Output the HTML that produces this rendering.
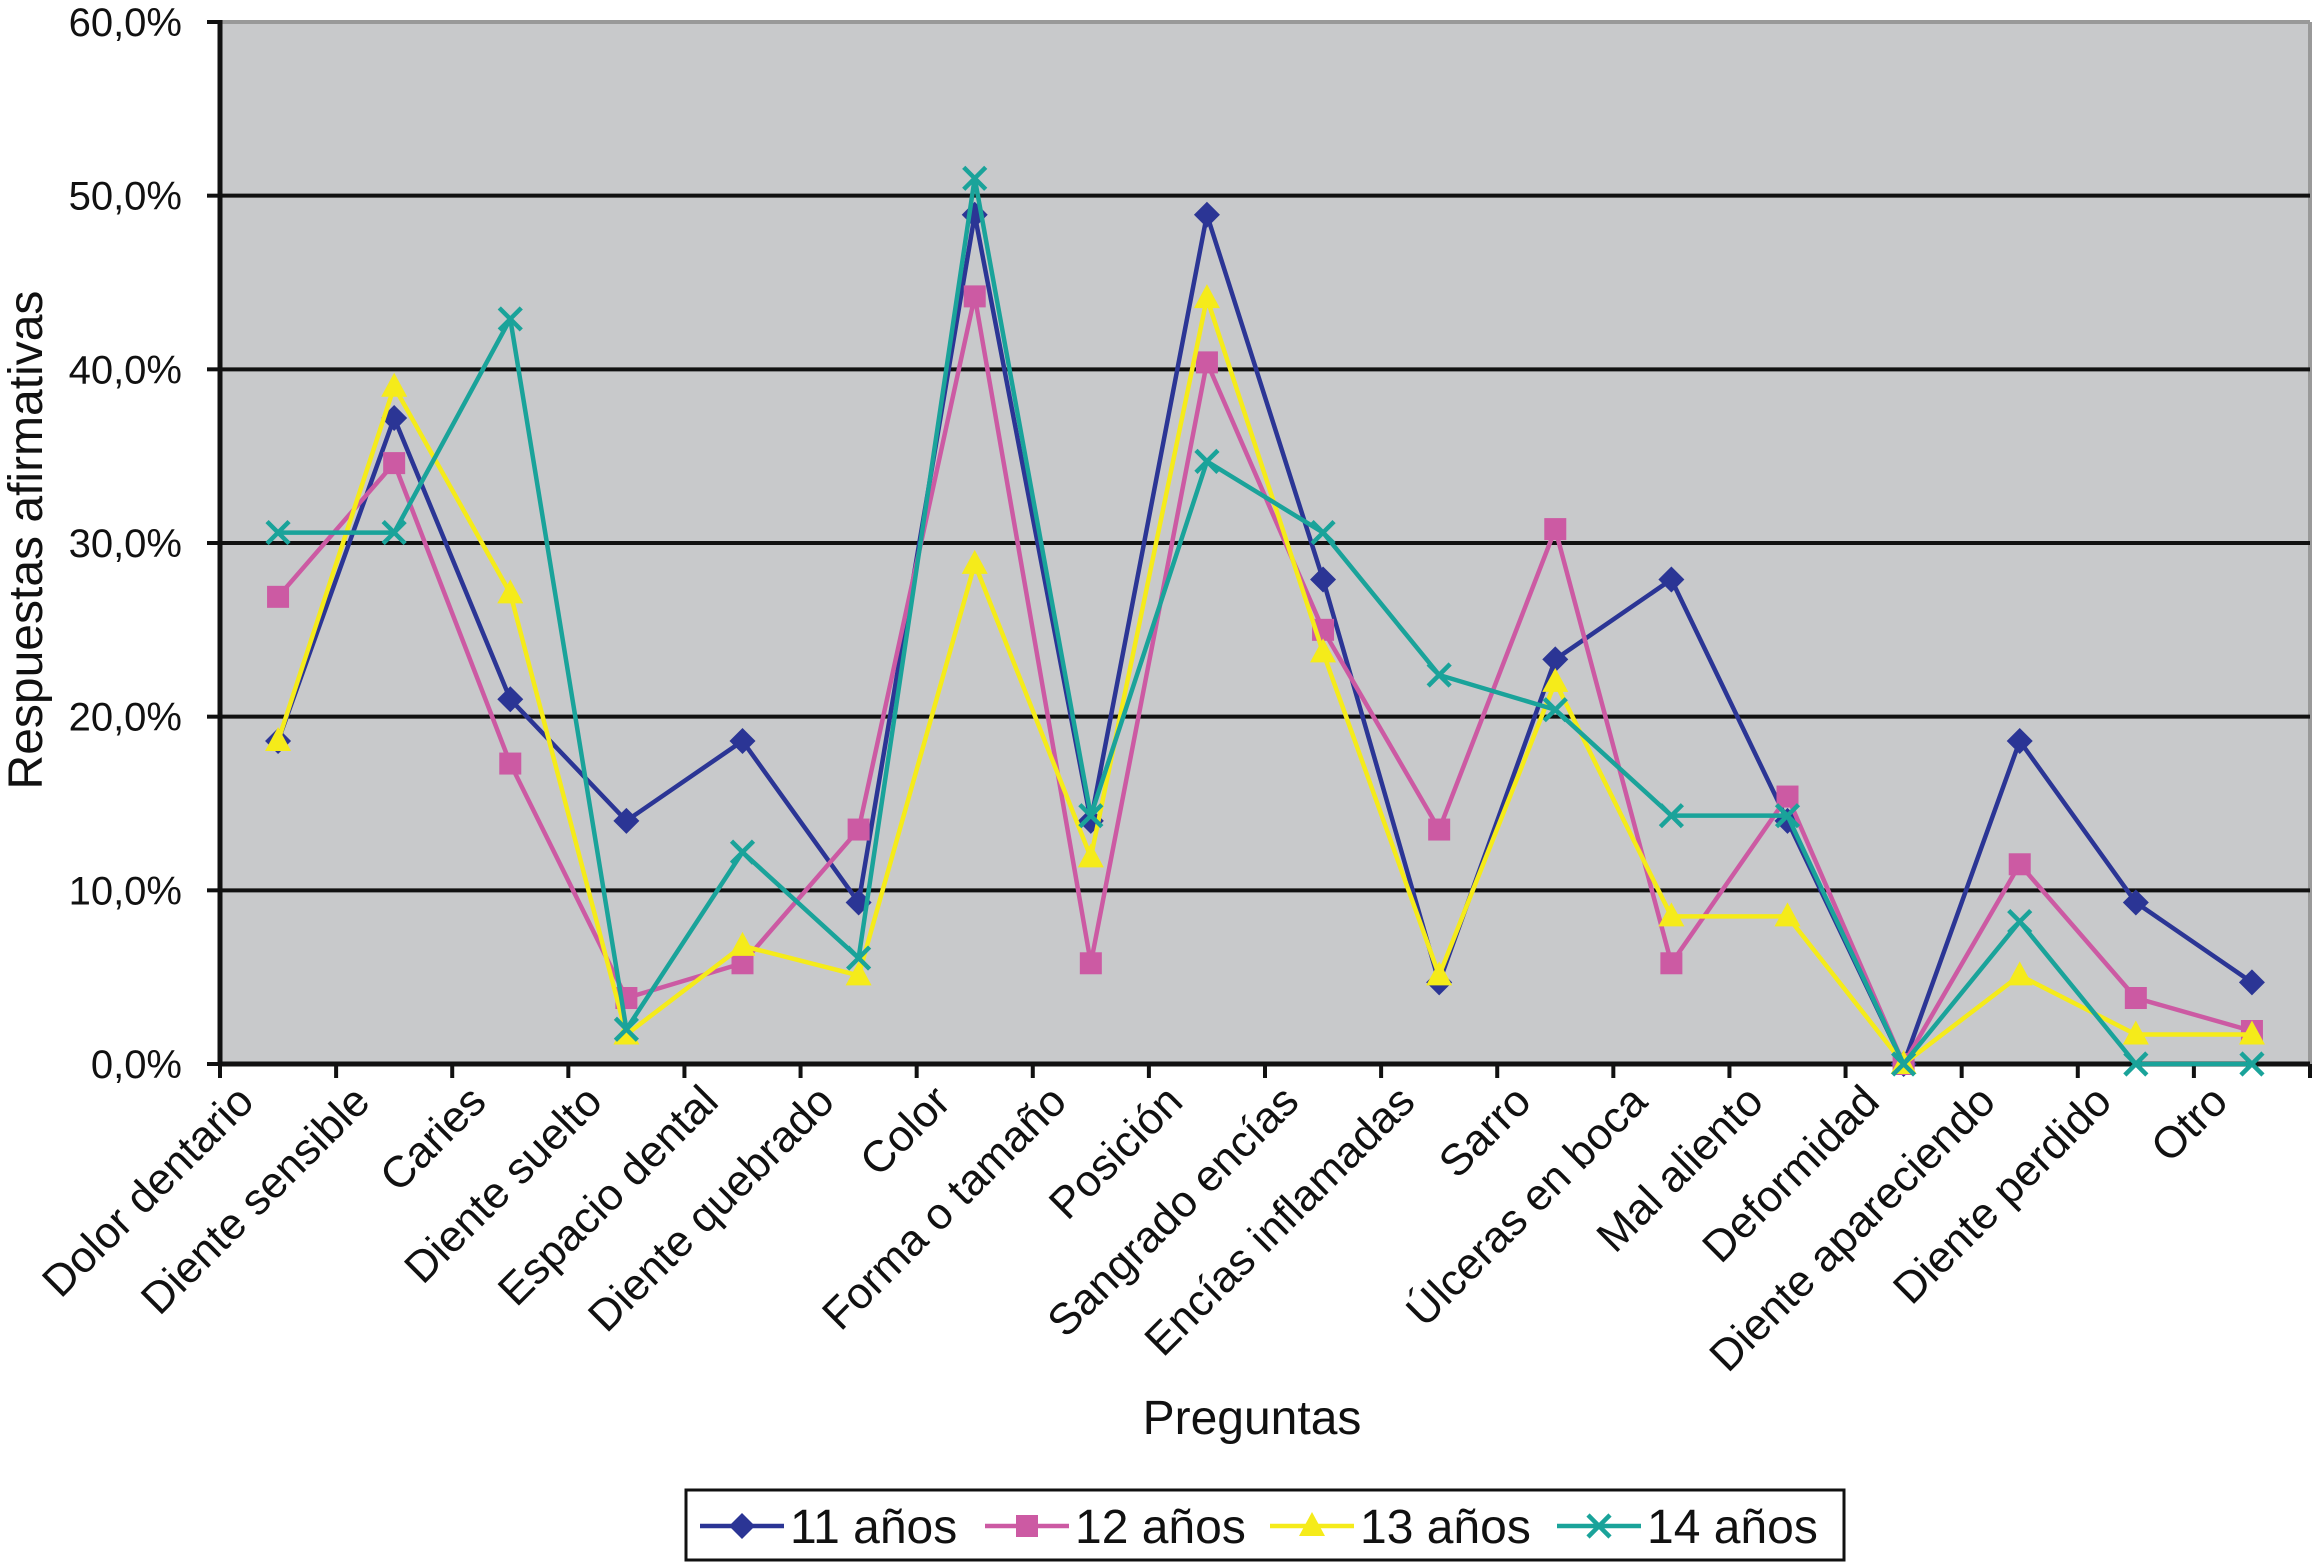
<!DOCTYPE html>
<html><head><meta charset="utf-8"><style>
html,body{margin:0;padding:0;background:#fff}
svg{display:block;font-family:"Liberation Sans",sans-serif}
</style></head><body>
<svg id="chart" width="2320" height="1567" viewBox="0 0 2320 1567" xmlns="http://www.w3.org/2000/svg"></svg>
<script>
const categories=["Dolor dentario","Diente sensible","Caries","Diente suelto","Espacio dental","Diente quebrado","Color","Forma o tamaño","Posición","Sangrado encías","Encías inflamadas","Sarro","Úlceras en boca","Mal aliento","Deformidad","Diente apareciendo","Diente perdido","Otro"];
const s11=[18.6,37.2,21.0,14.0,18.6,9.3,48.9,14.0,48.9,27.9,4.7,23.3,27.9,14.0,0,18.6,9.3,4.7];
const s12=[26.9,34.6,17.3,3.8,5.8,13.5,44.2,5.8,40.4,25.0,13.5,30.8,5.8,15.4,0,11.5,3.8,1.9];
const s13=[18.6,39.0,27.1,1.7,6.8,5.1,28.8,11.9,44.1,23.7,5.1,22.0,8.5,8.5,0,5.1,1.7,1.7];
const s14=[30.6,30.6,42.9,2.0,12.2,6.1,51.0,14.3,34.7,30.6,22.4,20.4,14.3,14.3,0,8.2,0,0];
const yTicks=[0,10,20,30,40,50,60];
const seriesNames=["11 años","12 años","13 años","14 años"];

const NS="http://www.w3.org/2000/svg";
const svg=document.getElementById('chart');
const L=220,R=2310,T=22,B=1064;
const step=(R-L)/categories.length;
const x=i=>L+(i+0.5)*step;
const y=v=>B-(v/60)*(B-T);
function mk(tag,attrs,parent){const e=document.createElementNS(NS,tag);for(const k in attrs)e.setAttribute(k,attrs[k]);(parent||svg).appendChild(e);return e;}

const bg=mk('rect',{x:L,y:T,width:R-L,height:B-T,fill:'#c8c9cb'});


mk('line',{x1:L,y1:T,x2:R,y2:T,stroke:'#999','stroke-width':4});
mk('line',{x1:R,y1:T,x2:R,y2:B,stroke:'#999','stroke-width':4});

yTicks.forEach(v=>{
  if(v>0&&v<60){const g=mk('line',{x1:L,y1:y(v),x2:R,y2:y(v),stroke:'#111','stroke-width':4});
  
  }
  mk('line',{x1:207,y1:y(v),x2:L,y2:y(v),stroke:'#111','stroke-width':4});
  const t=mk('text',{x:182,y:y(v)+14,'text-anchor':'end','font-size':40,fill:'#111'});
  t.textContent=v.toFixed(1).replace('.',',')+'%';
  
  
});
mk('line',{x1:L,y1:T-2,x2:L,y2:B+2,stroke:'#111','stroke-width':5});
mk('line',{x1:L,y1:B,x2:R,y2:B,stroke:'#111','stroke-width':5});
for(let i=0;i<=categories.length;i++){
  mk('line',{x1:L+i*step,y1:B,x2:L+i*step,y2:B+14,stroke:'#111','stroke-width':4});
}
categories.forEach((c,i)=>{
  const t=mk('text',{x:0,y:0,'text-anchor':'end','font-size':44,fill:'#111',transform:`translate(${x(i)-22},${B+40}) rotate(-45)`});
  t.textContent=c;
  
  
});
const yt=mk('text',{x:0,y:0,'text-anchor':'middle','font-size':48,fill:'#111',transform:'translate(42,540) rotate(-90)'});
yt.textContent='Respuestas afirmativas';


const xt=mk('text',{x:1252,y:1434,'text-anchor':'middle','font-size':48,fill:'#111'});
xt.textContent='Preguntas';



const colors=['#2b3595','#cc5aa3','#f5eb1a','#1aa39a'];
const data=[s11,s12,s13,s14];
function marker(k,cx,cy,parent){
  if(k===0) return mk('polygon',{points:`${cx},${cy-13} ${cx+13},${cy} ${cx},${cy+13} ${cx-13},${cy}`,fill:colors[0]},parent);
  if(k===1) return mk('rect',{x:cx-11,y:cy-11,width:22,height:22,fill:colors[1]},parent);
  if(k===2) return mk('polygon',{points:`${cx},${cy-14} ${cx+13},${cy+10} ${cx-13},${cy+10}`,fill:colors[2]},parent);
  const g=mk('g',{stroke:colors[3],'stroke-width':4.5},parent);
  mk('line',{x1:cx-11,y1:cy-11,x2:cx+11,y2:cy+11},g);mk('line',{x1:cx-11,y1:cy+11,x2:cx+11,y2:cy-11},g);return g;
}
data.forEach((s,k)=>{
  const g=mk('g',{});
  
  
  mk('polyline',{points:s.map((v,i)=>x(i)+','+y(v)).join(' '),fill:'none',stroke:colors[k],'stroke-width':4.5,'stroke-linejoin':'round'},g);
  s.forEach((v,i)=>{const m=marker(k,x(i),y(v),g);
    
    });
});

const lg=mk('g',{});


mk('rect',{x:686,y:1490,width:1158,height:70,fill:'#fff',stroke:'#111','stroke-width':3},lg);
const lx=[700,985,1270,1557];
seriesNames.forEach((n,k)=>{
  const e=mk('g',{},lg);
  
  
  mk('line',{x1:lx[k],y1:1526,x2:lx[k]+84,y2:1526,stroke:colors[k],'stroke-width':4.5},e);
  marker(k,lx[k]+42,1526,e);
  const t=mk('text',{x:lx[k]+90,y:1543,'font-size':48,fill:'#111'},e);
  t.textContent=n;
});
</script>
</body></html>
